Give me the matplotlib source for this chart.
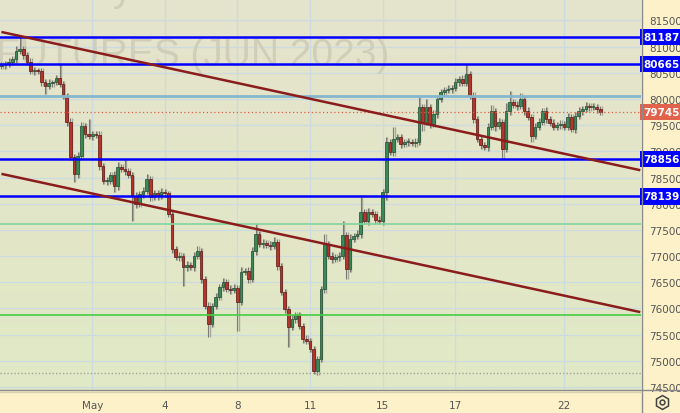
"""
plot.py
Свечной график фьючерса с уровнями и трендовыми линиями.
"""

import numpy as np
import matplotlib.pyplot as plt
import matplotlib.transforms as mtransforms

# Цены закрытия (часовые свечи)
closes = [
    80650, 80670, 80710, 80760, 80920, 80960, 80840, 80710, 80530, 80550,
    80530, 80320, 80250, 80310, 80320, 80400, 80290, 80060, 79560, 78890,
    78570, 78910, 79480, 79330, 79290, 79330, 79310, 78720, 78430, 78430,
    78550, 78340, 78700, 78660, 78620, 78550, 78150, 77990, 78190, 78240,
    78470, 78130, 78200, 78150, 78220, 78200, 77800, 77130, 76980, 77000,
    76790, 76830, 76790, 77000, 77100, 76560, 76050, 75700, 76050, 76220,
    76410, 76500, 76370, 76350, 76390, 76120, 76700, 76720, 76560, 77100,
    77420, 77230, 77250, 77210, 77190, 77270, 76810, 76310, 75990, 75650,
    75800, 75870, 75660, 75420, 75380, 75230, 74800, 75030, 76370, 77230,
    77000, 76940, 76980, 77000, 77400, 76750, 77330, 77380, 77420, 77840,
    77670, 77840, 77800, 77690, 77670, 78220, 79180, 78990, 79240, 79270,
    79140, 79180, 79180, 79160, 79180, 79850, 79560, 79850, 79520, 79710,
    80000, 80130, 80170, 80190, 80210, 80320, 80380, 80310, 80480, 80060,
    79620, 79240, 79120, 79080, 79470, 79770, 79480, 79560, 79040, 79770,
    79940, 79890, 79870, 80000, 79770, 79660, 79290, 79470, 79560, 79770,
    79620, 79540, 79470, 79500, 79520, 79470, 79660, 79430, 79680, 79770,
    79810, 79870, 79850, 79850, 79810, 79745,
]
first_open = 80630

# Длина теней (в пунктах)
wick_up = [
    60, 50, 70, 60, 90, 220, 60, 50, 80, 60,
    50, 70, 60, 80, 50, 60, 270, 60, 50, 70,
    60, 80, 90, 60, 290, 60, 50, 70, 60, 80,
    60, 70, 90, 60, 190, 60, 50, 70, 60, 80,
    90, 60, 70, 60, 80, 60, 50, 70, 60, 80,
    60, 70, 60, 80, 90, 60, 50, 70, 60, 80,
    60, 90, 60, 70, 80, 60, 100, 60, 70, 80,
    190, 60, 70, 60, 80, 90, 60, 50, 70, 60,
    80, 60, 70, 60, 80, 60, 50, 70, 60, 190,
    60, 70, 60, 80, 270, 60, 90, 60, 70, 290,
    60, 80, 60, 70, 80, 60, 90, 60, 230, 60,
    70, 60, 80, 60, 70, 200, 60, 150, 60, 80,
    60, 70, 60, 80, 60, 90, 60, 70, 190, 60,
    70, 60, 80, 60, 70, 120, 60, 80, 60, 150,
    210, 60, 70, 120, 60, 80, 60, 70, 80, 60,
    70, 60, 80, 60, 70, 60, 80, 60, 70, 80,
    60, 70, 60, 80, 60, 50,
]
wick_dn = [
    60, 70, 50, 60, 80, 60, 70, 60, 50, 80,
    60, 70, 150, 60, 80, 60, 70, 60, 80, 60,
    160, 70, 60, 80, 60, 70, 60, 80, 60, 70,
    60, 120, 70, 60, 80, 60, 480, 70, 60, 80,
    60, 70, 60, 80, 60, 70, 60, 80, 60, 70,
    360, 70, 60, 80, 60, 70, 60, 250, 60, 70,
    60, 80, 60, 70, 60, 550, 60, 70, 80, 60,
    70, 60, 80, 60, 70, 60, 80, 60, 70, 390,
    60, 70, 60, 80, 60, 70, 60, 80, 60, 70,
    60, 80, 60, 70, 60, 190, 60, 70, 60, 80,
    60, 70, 60, 80, 60, 70, 150, 60, 70, 60,
    80, 60, 70, 60, 80, 60, 180, 60, 80, 60,
    70, 60, 80, 60, 70, 60, 80, 60, 70, 60,
    80, 60, 70, 60, 80, 60, 90, 60, 190, 60,
    70, 60, 80, 60, 70, 60, 120, 60, 70, 60,
    80, 60, 70, 60, 80, 60, 70, 60, 80, 60,
    70, 60, 80, 60, 70, 60,
]

# Горизонтальные уровни
blue_levels = [81187, 80665, 78856, 78139]
light_blue_level = 80060
green_levels = [77610, 75870]
dotted_level = 74770
last_price = 79745

# Трендовые линии: (индекс свечи, цена)
trend_upper = [(0, 81280), (176, 78640)]
trend_lower = [(0, 78570), (176, 75930)]

# Подписи оси времени
date_ticks = [25, 45, 65, 85, 105, 125, 155]
date_labels = ['May', '4', '8', '11', '15', '17', '22']
price_ticks = [74500, 75000, 75500, 76000, 76500, 77000, 77500,
               78000, 78500, 79000, 79500, 80000, 80500, 81000, 81500]

W, H = 680, 414
PLOT_W, PLOT_H = 641, 391

fig = plt.figure(figsize=(W / 100, H / 100), dpi=100, facecolor='#fdf1c9')
ax = fig.add_axes([0, (H - PLOT_H) / H, PLOT_W / W, PLOT_H / H])

xmin, xmax = -0.4, 176.2
ymin, ymax = 74442, 81910
ax.set_xlim(xmin, xmax)
ax.set_ylim(ymin, ymax)

# Фон с вертикальным градиентом
top = np.array([229, 227, 204]) / 255
bottom = np.array([225, 233, 197]) / 255
t = np.linspace(0, 1, 256)[:, None]
grad = top * (1 - t) + bottom * t
ax.imshow(grad[:, None, :], extent=[xmin, xmax, ymin, ymax], aspect='auto',
          zorder=0, origin='upper')

# Сетка
for x in date_ticks:
    ax.axvline(x, color='#cbdbe0', lw=0.9, zorder=1)
for y in price_ticks:
    ax.axhline(y, color='#cbdbe0', lw=0.9, zorder=1)

# Водяной знак
ax.text(-4 / PLOT_W, 1 - 56 / PLOT_H, 'FUTURES (JUN 2023)', transform=ax.transAxes,
        fontsize=28, family='Liberation Sans', color='#d0ceb9', ha='left',
        va='center', zorder=1)
ax.text(113 / PLOT_W, 1 + 9 / PLOT_H, 'y', transform=ax.transAxes,
        fontsize=28, family='Liberation Sans', color='#d0ceb9', ha='left',
        va='center', zorder=1, clip_on=True)

# Свечи
idx = np.arange(len(closes))
c = np.array(closes, dtype=float)
o = np.concatenate([[first_open], c[:-1]])
hi = np.maximum(o, c) + np.array(wick_up)
lo = np.minimum(o, c) - np.array(wick_dn)
up = c >= o

ax.vlines(idx + 0.35, lo, hi, color='#a8a89a', lw=1, zorder=2)
ax.vlines(idx, lo, hi, color='#7a7a70', lw=0.8, zorder=3)

body_lo = np.minimum(o, c)
body_h = np.maximum(np.abs(c - o), 15)
ax.bar(idx + 0.3, body_h, bottom=body_lo - 12, width=0.72, color='#b4b4a6',
       zorder=2, linewidth=0)
ax.bar(idx[up], body_h[up], bottom=body_lo[up], width=0.72, color='#3a8a58',
       edgecolor='#1f4a2e', linewidth=0.5, zorder=4)
ax.bar(idx[~up], body_h[~up], bottom=body_lo[~up], width=0.72, color='#b5352a',
       edgecolor='#5a1612', linewidth=0.5, zorder=4)

# Уровни
for lvl in blue_levels:
    ax.axhline(lvl, color='#0000ff', lw=1.8, zorder=5)
ax.axhline(light_blue_level, color='#86b6cb', lw=2, zorder=5)
ax.axhline(green_levels[0], color='#7fd6a0', lw=1.2, zorder=5)
ax.axhline(green_levels[1], color='#45cc45', lw=1.2, zorder=5)
ax.axhline(dotted_level, color='#a4a49a', lw=1, ls=(0, (1, 1.5)), zorder=5)
ax.axhline(last_price, color='#e0604a', lw=0.9, ls=(0, (1, 2)), zorder=5)

# Трендовые линии
for line in (trend_upper, trend_lower):
    xs, ys = zip(*line)
    ax.plot(xs, ys, color='#8b1c1c', lw=1.8, zorder=6, solid_capstyle='butt')

# Оси
for s in ax.spines.values():
    s.set_visible(False)
ax.yaxis.tick_right()
ax.set_yticks(price_ticks)
ax.set_yticklabels([str(v) for v in price_ticks])
ax.tick_params(axis='y', length=0, pad=6, labelsize=7.5, labelcolor='#555555')
ax.set_xticks(date_ticks)
ax.set_xticklabels(date_labels)
ax.tick_params(axis='x', length=0, pad=7, labelsize=7.5, labelcolor='#555555')
for lab in ax.get_xticklabels() + ax.get_yticklabels():
    lab.set_family('DejaVu Sans')

# Разделители панели цен и шкалы времени
fig.add_artist(plt.Line2D([PLOT_W / W + 0.5 / W] * 2, [0, 1], color='#8a8a8a',
                          lw=1, transform=fig.transFigure))
fig.add_artist(plt.Line2D([0, 1], [(H - PLOT_H) / H] * 2, color='#8a8a8a',
                          lw=1, transform=fig.transFigure))
fig.add_artist(plt.Line2D([0, PLOT_W / W], [(H - PLOT_H - 2) / H] * 2,
                          color='#d9d2b0', lw=1, transform=fig.transFigure))

# Ценовые метки справа
trans = mtransforms.blended_transform_factory(ax.transAxes, ax.transData)
for lvl in blue_levels:
    ax.text(1.003, lvl, str(lvl), transform=trans, ha='left', va='center',
            fontsize=7.5, fontweight='bold', color='white', zorder=10,
            clip_on=False,
            bbox=dict(boxstyle='square,pad=0.3', fc='#0000ff', ec='none'))
ax.text(1.003, last_price, str(last_price), transform=trans, ha='left',
        va='center', fontsize=7.5, fontweight='bold', color='white', zorder=10,
        clip_on=False,
        bbox=dict(boxstyle='square,pad=0.3', fc='#e2624c', ec='none'))

# Значок настроек
fig.add_artist(plt.Line2D([662 / W], [11 / H], marker='h', markersize=10,
                          mfc='none', mec='#444444', mew=1.1, ls='none',
                          transform=fig.transFigure))
fig.add_artist(plt.Line2D([662 / W], [11 / H], marker='o', markersize=3.5,
                          mfc='none', mec='#444444', mew=1.1, ls='none',
                          transform=fig.transFigure))

fig.savefig('out.png', dpi=100, facecolor=fig.get_facecolor())
